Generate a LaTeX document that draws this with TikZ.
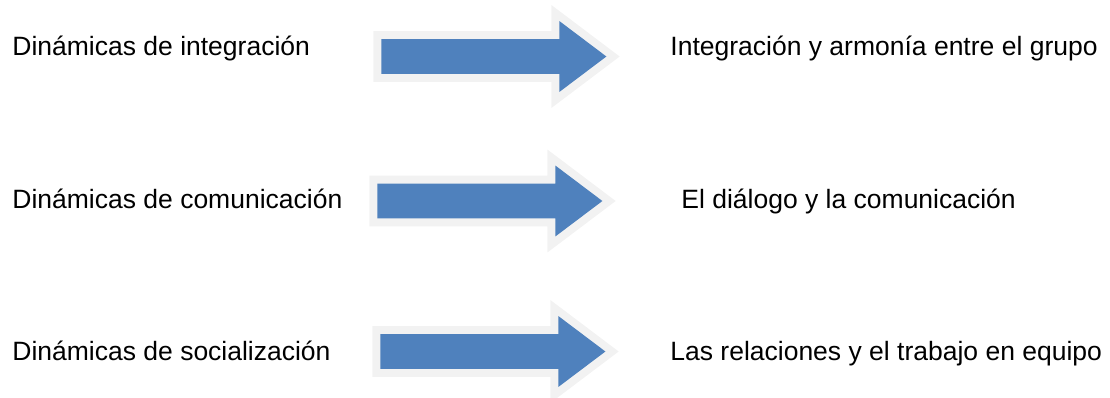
\documentclass[tikz,border=0pt]{standalone}
\usepackage{fontspec}
\setmainfont{Liberation Sans}
\usepackage{tikz}
\usetikzlibrary{shapes.arrows}
\definecolor{arrowblue}{HTML}{4F81BD}
\definecolor{arrowrim}{HTML}{F2F2F2}

\begin{document}
\begin{tikzpicture}[
    x=0.5pt, y=-0.5pt,
    every node/.style={font=\fontsize{13.25}{16}\selectfont, inner sep=0pt},
    dyn/.style={anchor=base west},
    bigarrow/.style={single arrow, anchor=tail, fill=arrowblue,
        preaction={draw=arrowrim, line width=8pt, line join=miter},
        inner xsep=0pt, inner ysep=8.5pt, text height=0pt, text depth=0pt,
        minimum height=112.5pt, single arrow head extend=9pt,
        single arrow tip angle=74}]

    \useasboundingbox (0,0) rectangle (1110,397);

    \node[dyn] (dint) at (12,55) {Dinámicas de integración};
    \node[bigarrow] (aint) at (381,56.5) {};
    \node[dyn] (rint) at (670,55) {Integración y armonía entre el grupo};

    \node[dyn] (dcom) at (12,208) {Dinámicas de comunicación};
    \node[bigarrow] (acom) at (377,201) {};
    \node[dyn] (rcom) at (681,208) {El diálogo y la comunicación};

    \node[dyn] (dsoc) at (12,360) {Dinámicas de socialización};
    \node[bigarrow] (asoc) at (380,351.5) {};
    \node[dyn] (rsoc) at (670,360) {Las relaciones y el trabajo en equipo};

\end{tikzpicture}
\end{document}
